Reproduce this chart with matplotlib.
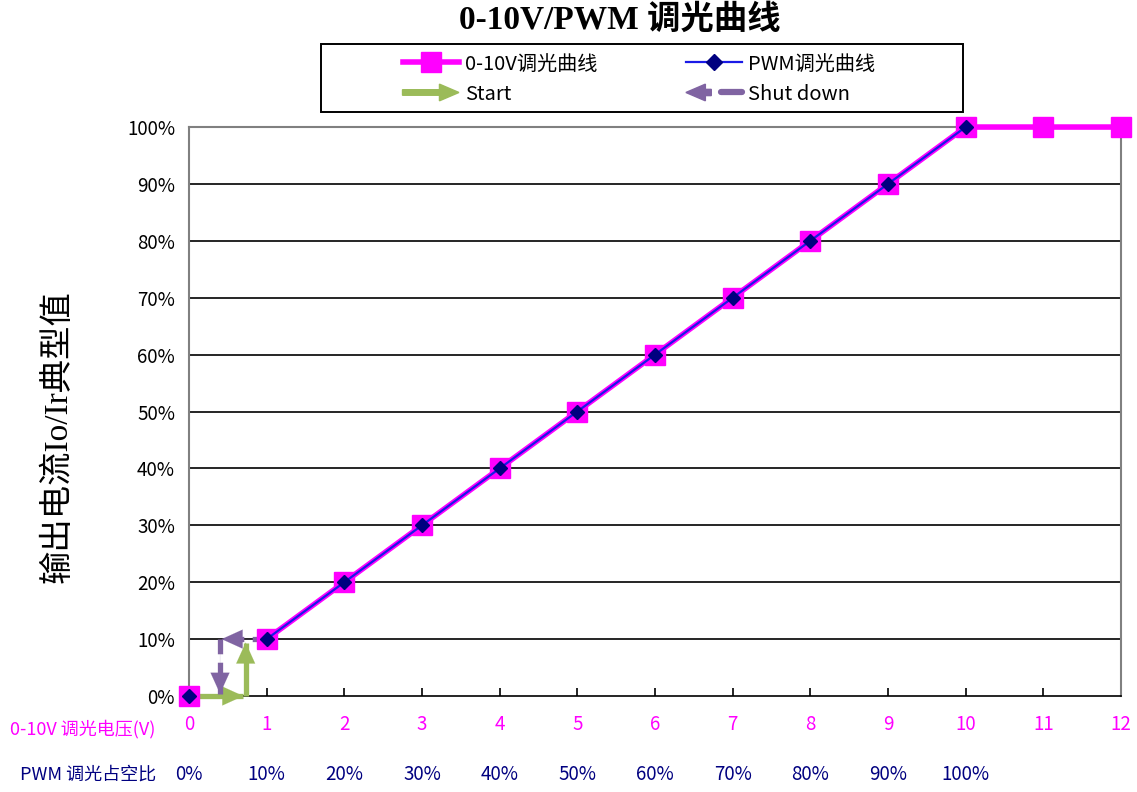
import matplotlib
matplotlib.use("Agg")
import matplotlib.pyplot as plt
import matplotlib.patches as mpatches
from matplotlib.legend_handler import HandlerPatch
from matplotlib.lines import Line2D

plt.rcParams['font.family'] = ['Noto Sans CJK SC', 'DejaVu Sans']

voltage = [0, 1, 2, 3, 4, 5, 6, 7, 8, 9, 10, 11, 12]
output_v = [0, 10, 20, 30, 40, 50, 60, 70, 80, 90, 100, 100, 100]
pwm_x = [0, 1, 2, 3, 4, 5, 6, 7, 8, 9, 10]
output_pwm = [0, 10, 20, 30, 40, 50, 60, 70, 80, 90, 100]
pwm_labels = ['0%', '10%', '20%', '30%', '40%', '50%', '60%', '70%', '80%', '90%', '100%']
yticks = [0, 10, 20, 30, 40, 50, 60, 70, 80, 90, 100]

# start / shutdown arrow paths (in data units)
start_h = ([0, 0.70], [0, 0])
start_v = ([0.73, 0.73], [0, 9.4])
shut_h = ([1, 0.42], [10, 10])
shut_v = ([0.40, 0.40], [10, 0.4])

MAG = '#FF00FF'
NAVY = '#000080'
BLUE = '#1A1AE6'
GREEN = '#9BBB59'
PURPLE = '#8064A2'

fig = plt.figure(figsize=(11.37, 7.92), dpi=100)
ax = fig.add_axes([0.1662, 0.1212, 0.8197, 0.7184])

ax.set_xlim(0, 12)
ax.set_ylim(0, 100)
for y in yticks[1:-1]:
    ax.axhline(y, color='black', lw=1.2, zorder=1)

def arrow(xs, ys, color, dashed):
    if dashed:
        ax.plot(xs, ys, color=color, lw=3.8, linestyle=(0, (2.8, 1.6)),
                solid_capstyle='butt', zorder=3, clip_on=False)
    else:
        ax.plot(xs, ys, color=color, lw=3.8, zorder=3, clip_on=False,
                solid_capstyle='butt')
    ax.annotate('', xy=(xs[1], ys[1]), xytext=(xs[0], ys[0]),
                arrowprops=dict(arrowstyle='-|>,head_width=0.34,head_length=0.75',
                                mutation_scale=20, color=color, lw=0.1,
                                shrinkA=0, shrinkB=0),
                zorder=3)

arrow(*start_h, GREEN, False)
arrow(*start_v, GREEN, False)
arrow(*shut_h, PURPLE, True)
arrow(*shut_v, PURPLE, True)

# lines start at the 1V / 10% point; the 0 point is a lone marker
ax.plot(voltage[1:], output_v[1:], color=MAG, lw=4, zorder=4, clip_on=False)
ax.plot(voltage, output_v, linestyle='none', marker='s', markersize=15,
        markerfacecolor=MAG, markeredgecolor=MAG, zorder=4, clip_on=False)
ax.plot(pwm_x[1:], output_pwm[1:], color=BLUE, lw=1.6, zorder=5, clip_on=False)
ax.plot(pwm_x, output_pwm, linestyle='none', marker='D', markersize=7.5,
        markerfacecolor=NAVY, markeredgecolor=NAVY, zorder=5, clip_on=False)

for s in ['left', 'right', 'top']:
    ax.spines[s].set_color('#808080')
    ax.spines[s].set_linewidth(1.5)
ax.spines['bottom'].set_color('black')
ax.spines['bottom'].set_linewidth(1.2)

ax.set_yticks(yticks)
ax.set_yticklabels([f'{v}%' for v in yticks], fontsize=13.5)
ax.tick_params(axis='y', length=0, pad=10)
ax.set_xticks(voltage)
ax.set_xticklabels([str(v) for v in voltage], fontsize=13.5, color=MAG)
ax.tick_params(axis='x', direction='in', length=6, width=1.2, color='black', pad=13)

# PWM duty labels row
for x, lab in zip(pwm_x, pwm_labels):
    ax.text(x, -13.8, lab, ha='center', va='center', fontsize=13.5, color=NAVY,
            transform=ax.transData, clip_on=False)
fig.text(10 / 1137, 1 - 729 / 792, '0-10V 调光电压(V)', fontsize=13, color=MAG,
         ha='left', va='center')
fig.text(20 / 1137, 1 - 775 / 792, 'PWM 调光占空比', fontsize=13, color=NAVY,
         ha='left', va='center')

fig.text(58 / 1137, 1 - 437 / 792, '输出电流Io/Ir典型值', fontsize=24, rotation=90,
         ha='center', va='center', family=['Liberation Serif', 'Noto Sans CJK SC'])

fig.text(620 / 1137, 1 - 20 / 792, '0-10V/PWM 调光曲线', fontsize=24, fontweight='bold',
         ha='center', va='center',
         family=['Liberation Serif', 'Noto Sans CJK SC'])

# legend
class HandlerArrow(HandlerPatch):
    def __init__(self, color, left=False):
        super().__init__()
        self.c = color
        self.left = left

    def create_artists(self, legend, orig_handle, xdescent, ydescent, width,
                       height, fontsize, trans):
        y = height / 2 - ydescent
        artists = []
        if not self.left:
            a = mpatches.FancyArrow(-xdescent, y, width, 0, width=4.0,
                                    head_width=12, head_length=14,
                                    length_includes_head=True, color=self.c,
                                    transform=trans)
            artists.append(a)
        else:
            a = mpatches.FancyArrow(-xdescent + width * 0.45, y, -width * 0.45, 0,
                                    width=4.5, head_width=12, head_length=14,
                                    length_includes_head=True, color=self.c,
                                    transform=trans)
            b = Line2D([-xdescent + width * 0.62, -xdescent + width], [y, y],
                       color=self.c, lw=4.5, solid_capstyle='round',
                       transform=trans)
            artists.extend([a, b])
        return artists

h1 = Line2D([], [], color=MAG, lw=4, marker='s', markersize=14,
            markerfacecolor=MAG, markeredgecolor=MAG)
h2 = Line2D([], [], color=BLUE, lw=1.6, marker='D', markersize=8,
            markerfacecolor=NAVY, markeredgecolor=NAVY)
h3 = mpatches.Patch(color=GREEN)
h4 = mpatches.Patch(color=PURPLE)

leg = fig.legend([h1, h3, h2, h4], ['0-10V调光曲线', 'Start', 'PWM调光曲线', 'Shut down'],
                 handler_map={h3: HandlerArrow(GREEN), h4: HandlerArrow(PURPLE, left=True)},
                 ncol=2, loc='center', bbox_to_anchor=(639 / 1137, 1 - 79 / 792),
                 frameon=False, fontsize=14.5,
                 handlelength=2.8, columnspacing=4.4, labelspacing=0.45,
                 borderpad=0.2, handletextpad=0.3)

frame = mpatches.Rectangle((321 / 1137, 1 - 112 / 792), 642 / 1137, 68 / 792,
                           transform=fig.transFigure, fill=False,
                           edgecolor='black', lw=1.4)
fig.add_artist(frame)

fig.savefig('out.png', dpi=100)
